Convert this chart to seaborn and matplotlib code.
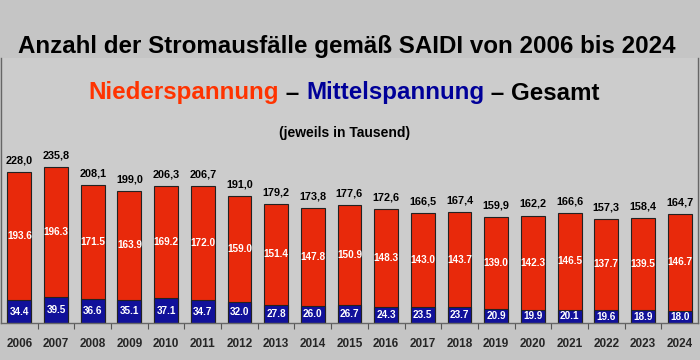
import matplotlib
matplotlib.use("Agg")
import matplotlib.pyplot as plt
from matplotlib import font_manager
from matplotlib.ticker import FixedLocator
import seaborn as sns
import pandas as pd
import numpy as np

years = ["2006", "2007", "2008", "2009", "2010", "2011", "2012", "2013", "2014", "2015",
         "2016", "2017", "2018", "2019", "2020", "2021", "2022", "2023", "2024"]
nieder = [193.6, 196.3, 171.5, 163.9, 169.2, 172.0, 159.0, 151.4, 147.8, 150.9,
          148.3, 143.0, 143.7, 139.0, 142.3, 146.5, 137.7, 139.5, 146.7]
mittel = [34.4, 39.5, 36.6, 35.1, 37.1, 34.7, 32.0, 27.8, 26.0, 26.7,
          24.3, 23.5, 23.7, 20.9, 19.9, 20.1, 19.6, 18.9, 18.0]

df = pd.DataFrame({"Jahr": years, "Nieder": nieder, "Mittel": mittel})
df["Gesamt"] = (df["Nieder"] + df["Mittel"]).round(1)

sns.set_theme(style="white")
names = {f.name for f in font_manager.fontManager.ttflist}
fam = "Liberation Sans Narrow" if "Liberation Sans Narrow" in names else "Liberation Sans"
plt.rcParams["font.family"] = [fam, "DejaVu Sans"]

RED = "#e8290b"
BLUE = "#11119a"

fig = plt.figure(figsize=(7, 3.6), dpi=100, facecolor="#c5c5c5")
ax = fig.add_axes([1 / 700, 37 / 360, 697 / 700, 265 / 360])
ax.set_facecolor("#cccccc")

sns.barplot(data=df, x="Jahr", y="Gesamt", color=RED, width=0.65, edgecolor="#222222",
            linewidth=0.8, saturation=1, ax=ax)
sns.barplot(data=df, x="Jahr", y="Mittel", color=BLUE, width=0.65, edgecolor="#222222",
            linewidth=0.8, saturation=1, ax=ax)

ax.set_ylim(0, 400)
ax.set_xlim(-0.5, len(years) - 0.5)
ax.set_xlabel("")
ax.set_ylabel("")
ax.set_yticks([])

for i, row in df.iterrows():
    ax.text(i, row["Gesamt"] + 13, f"{row['Gesamt']:.1f}".replace(".", ","),
            ha="center", va="baseline", fontsize=7.8, fontweight="bold", color="black")
    ax.text(i, row["Mittel"] + row["Nieder"] / 2, f"{row['Nieder']:.1f}",
            ha="center", va="center", fontsize=7.2, fontweight="bold", color="white")
    ax.text(i, row["Mittel"] / 2, f"{row['Mittel']:.1f}",
            ha="center", va="center", fontsize=7.2, fontweight="bold", color="white")

ax.tick_params(axis="x", which="major", length=0, pad=11, labelsize=8.5)
for lbl in ax.get_xticklabels():
    lbl.set_fontweight("bold")
ax.xaxis.set_minor_locator(FixedLocator(np.arange(0.5, len(years) - 1, 1)))
ax.tick_params(axis="x", which="minor", length=4, width=0.8, color="#555555", bottom=True)

ax.spines["top"].set_visible(False)
for s in ["bottom", "right", "left"]:
    ax.spines[s].set_color("#666666")
    ax.spines[s].set_linewidth(1.0)

fig.text(0.495, 1 - 47 / 360, "Anzahl der Stromausfälle gemäß SAIDI von 2006 bis 2024",
         ha="center", va="center", fontsize=17.4, fontweight="bold", color="black")

# multi-coloured second line
parts = [("Niederspannung", "#ff3300"), (" – ", "black"), ("Mittelspannung", "#000099"),
         (" – Gesamt", "black")]
renderer = fig.canvas.get_renderer()
y2 = 1 - 93 / 360
texts = []
for s, c in parts:
    t = fig.text(0, y2, s, ha="left", va="center", fontsize=17.4, fontweight="bold", color=c)
    texts.append(t)
widths = [t.get_window_extent(renderer=renderer).width / fig.bbox.width for t in texts]
x = 0.492 - sum(widths) / 2
for t, w in zip(texts, widths):
    t.set_x(x)
    x += w

fig.text(0.492, 1 - 133 / 360, "(jeweils in Tausend)", ha="center", va="center",
         fontsize=10, fontweight="bold", color="black")

fig.savefig("out.png", dpi=100, facecolor=fig.get_facecolor())
